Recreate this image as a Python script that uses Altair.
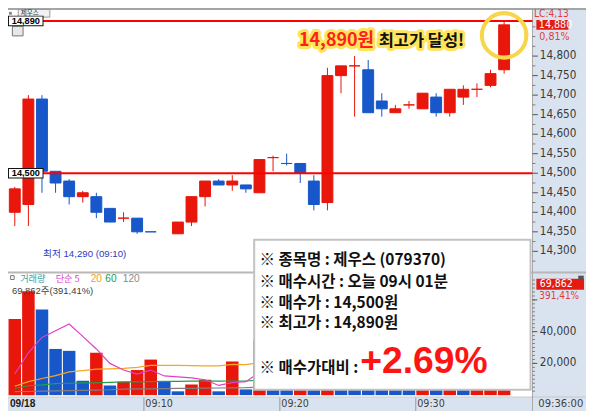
import altair as alt
import pandas as pd

W, H = 578, 403
SX, SY = W / 594.0, H / 419.0
FS = (SX + SY) / 2.0


def X(px):
    return round(px * SX, 2)


def Y(py):
    return round(py * SY, 2)


def F(s):
    return round(s * FS, 2)


RED, BLUE = "#e8160b", "#1757c9"
BAND = "#d9e3ef"
KR = "Noto Sans CJK KR"
NUM = "Liberation Sans Narrow, DejaVu Sans Condensed, Liberation Sans, Noto Sans CJK KR"
SANS = "Liberation Sans, Noto Sans CJK KR"

# ---------------- data ----------------
slots = list(range(37))  # 09:00 .. 09:36, one-minute candles
opens = [14400, 14420, 14690, 14505, 14480, 14440, 14440, 14410, 14385, 14385, 14350, None,
         14345, 14375, 14440, 14480, 14470, 14470, 14450, 14540, 14525, 14525, 14480, 14425,
         14750, 14775, 14765, 14685, 14655, 14675, 14665, 14695, 14655, 14695, 14715, 14725, 14765]
highs = [14465, 14700, 14700, 14505, 14485, 14455, 14450, 14410, 14400, 14385, 14350, None,
         14375, 14440, 14480, 14485, 14495, 14470, 14535, 14545, 14550, 14525, 14495, 14770,
         14775, 14800, 14790, 14705, 14675, 14685, 14705, 14705, 14715, 14725, 14730, 14765, 14890]
lows = [14365, 14365, 14450, 14450, 14420, 14425, 14385, 14375, 14375, 14345, 14350, None,
        14345, 14365, 14415, 14470, 14455, 14450, 14450, 14505, 14520, 14475, 14405, 14405,
        14705, 14645, 14655, 14645, 14655, 14665, 14665, 14645, 14645, 14675, 14695, 14720, 14755]
closes = [14460, 14690, 14505, 14475, 14440, 14450, 14400, 14375, 14385, 14350, 14350, None,
          14375, 14440, 14480, 14470, 14480, 14460, 14535, 14540, 14525, 14500, 14420, 14750,
          14775, 14775, 14655, 14665, 14665, 14675, 14705, 14655, 14715, 14715, 14715, 14755, 14880]
cdir = ["up", "up", "down", "down", "down", "up", "down", "down", "up", "down", "down", None,
        "up", "up", "up", "down", "up", "down", "up", "up", "down", "down", "down", "up",
        "up", "up", "down", "down", "up", "up", "up", "down", "up", "up", "up", "up", "up"]

volumes = [47900, 65500, 53900, 29100, 27900, 9100, 26700, 6100, 8500, 15800, 22400, 8500,
           2400, 6700, 9700, 2400, 21200, 3600, 35000, 12000, 8000, 10000, 20000, 68000,
           25000, 30000, 22000, 9000, 5000, 4000, 12000, 9000, 15000, 8000, 6000, 20000, 69862]
vdir = ["up", "up", "down", "down", "down", "down", "up", "down", "up", "up", "up", "down",
        "down", "up", "up", "down", "up", "down", "up", "down", "down", "up", "down", "up",
        "down", "down", "down", "down", "down", "down", "up", "down", "up", "down", "up", "up", "up"]

ma_slots = list(range(19))
ma5 = [13300, 26700, 36400, 40600, 44800, 37000, 29100, 20000, 15800, 13300, 15800, 12100,
       11500, 10900, 9700, 6100, 7900, 8500, 14400]
ma20 = [5600, 8500, 10500, 12300, 14700, 15500, 16400, 16600, 16800, 17500, 18800, 18800,
        18800, 18600, 18400, 18400, 19400, 19200, 20500]
ma60 = [4200, 5900, 6500, 7300, 7500, 7700, 7700, 8000, 8300, 8400, 8500, 8700,
        8700, 8800, 8800, 8800, 8900, 8900, 9400]
ma120 = [2200, 2300, 2500, 2700, 2800, 3000, 3200, 3400, 3800, 3900, 4000, 4100,
         4200, 4300, 4400, 4500, 4600, 4700, 5000]

level_prices = [14890, 14500]
level_labels = ["14,890", "14,500"]
price_ticks = [14300, 14350, 14400, 14450, 14500, 14550, 14600, 14650, 14700, 14750, 14800]
price_minor = [14275, 14325, 14375, 14425, 14475, 14525, 14575, 14625, 14675, 14725, 14775, 14825, 14850, 14875]
vol_ticks = [20000, 40000, 60000]
vol_tick_labels = [20000, 40000]
vol_minor = list(range(2500, 75000, 2500))
cur_price = [14880]
cur_volume = [69862]
time_slots = [0, 10, 20, 30]
time_labels = ["09/18", "09:10", "09:20", "09:30"]
high_mark = {"slot": [36], "p": [14853]}

# ---------------- helpers ----------------
ONE = pd.DataFrame({"k": [0]})


def hline(y, x0, x1, color, w):
    return alt.Chart(ONE).mark_rule(color=color, strokeWidth=w).encode(
        x=alt.value(X(x0)), x2=alt.value(X(x1)), y=alt.value(Y(y)))


def vline(x, y0, y1, color, w):
    return alt.Chart(ONE).mark_rule(color=color, strokeWidth=w).encode(
        x=alt.value(X(x)), y=alt.value(Y(y0)), y2=alt.value(Y(y1)))


def rect(x0, y0, x1, y1, **kw):
    return alt.Chart(ONE).mark_rect(**kw).encode(
        x=alt.value(X(x0)), x2=alt.value(X(x1)), y=alt.value(Y(y0)), y2=alt.value(Y(y1)))


def text(t, x, y, size, color="#000000", font=KR, weight="normal", align="left",
         baseline="middle", **kw):
    return alt.Chart(pd.DataFrame({"t": [t]})).mark_text(
        align=align, baseline=baseline, font=font, fontSize=F(size), fontWeight=weight,
        color=color, **kw).encode(x=alt.value(X(x)), y=alt.value(Y(y)), text="t:N")


xs = alt.Scale(domain=[-0.5, 38.0], range=[0, X(537.8)], nice=False, zero=False)
ps = alt.Scale(domain=[14300, 14800], range=[Y(253), Y(50)], nice=False, zero=False)
vs = alt.Scale(domain=[0, 60000], range=[Y(402.5), Y(303.5)], nice=False, zero=False)
cs = alt.Scale(domain=["up", "down"], range=[RED, BLUE])

# ---------------- background / frame ----------------
bg = alt.layer(
    rect(539, 0, 594, 405, fill=BAND),
    rect(0, 405, 594, 419, fill=BAND),
    hline(1, 0, 594, "#a5a5a5", 2),
    hline(275, 0, 594, "#b8b8b8", 2),
    hline(404.5, 0, 594, "#c3c3c3", 1),
    vline(539, 0, 419, "#a8a8a8", 1),
    rect(1, 4, 4, 7, fill="#888888"),
    rect(10.5, 1.5, 43, 9.5, fill="#f2f2f2", stroke="#9a9a9a", strokeWidth=1),
    text("제우스", 13, 5, 6.8, "#333333"),
    rect(4.5, 19, 15.5, 29, fill="#e8e8e8", stroke="#777777", strokeWidth=1),
)

# ---------------- volume panel ----------------
vdf = pd.DataFrame({"slot": slots, "vol": volumes, "dir": vdir})
vdf["x0"] = vdf["slot"] - 0.46
vdf["x1"] = vdf["slot"] + 0.46
vdf["zero"] = 0

vbars = alt.Chart(vdf).mark_rect().encode(
    x=alt.X("x0:Q", scale=xs, axis=None), x2="x1:Q",
    y=alt.Y("vol:Q", scale=vs, axis=None), y2="zero:Q",
    color=alt.Color("dir:N", scale=cs, legend=None))


def ma_line(vals, color):
    d = pd.DataFrame({"slot": ma_slots, "v": vals})
    return alt.Chart(d).mark_line(color=color, strokeWidth=1.2).encode(
        x=alt.X("slot:Q", scale=xs, axis=None), y=alt.Y("v:Q", scale=vs, axis=None))


vt = pd.DataFrame({"v": vol_ticks})
vtl = pd.DataFrame({"v": vol_tick_labels, "lab": [f"{v:,}" for v in vol_tick_labels]})
vm = pd.DataFrame({"v": vol_minor})
vminor = alt.Chart(vm).mark_rule(color="#7a7a7a", strokeWidth=1).encode(
    y=alt.Y("v:Q", scale=vs, axis=None), x=alt.value(X(539)), x2=alt.value(X(541.5)))
vmajor = alt.Chart(vt).mark_rule(color="#555555", strokeWidth=1).encode(
    y=alt.Y("v:Q", scale=vs, axis=None), x=alt.value(X(539)), x2=alt.value(X(544)))
vlab = alt.Chart(vtl).mark_text(align="left", baseline="middle", font=NUM, fontSize=F(12),
                                color="#3a3a3a").encode(
    y=alt.Y("v:Q", scale=vs, axis=None), x=alt.value(X(546.5)), text="lab:N")
cv = pd.DataFrame({"v": cur_volume, "lab": [f"{v:,}" for v in cur_volume]})
cvbox = alt.Chart(cv).mark_rule(color="#e31c12", strokeWidth=Y(11.5)).encode(
    y=alt.Y("v:Q", scale=vs, axis=None), x=alt.value(X(543)), x2=alt.value(X(592)))
cvtxt = alt.Chart(cv).mark_text(align="left", baseline="middle", font=NUM, fontSize=F(10.8),
                                color="white").encode(
    y=alt.Y("v:Q", scale=vs, axis=None), x=alt.value(X(546.5)), text="lab:N")

tdf = pd.DataFrame({"edge": [s - 0.5 for s in time_slots], "lab": time_labels})
tticks = alt.Chart(tdf.iloc[1:]).mark_rule(color="#9a9a9a", strokeWidth=1).encode(
    x=alt.X("edge:Q", scale=xs, axis=None), y=alt.value(Y(405)), y2=alt.value(Y(419)))
tlab_date = alt.Chart(tdf.iloc[:1]).mark_text(
    align="left", baseline="middle", font=SANS, fontSize=F(10.5), fontWeight="bold",
    color="#1a1a1a", dx=F(2)).encode(
    x=alt.X("edge:Q", scale=xs, axis=None), y=alt.value(Y(412)), text="lab:N")
tlab = alt.Chart(tdf.iloc[1:]).mark_text(
    align="left", baseline="middle", font=NUM, fontSize=F(11), color="#404040",
    dx=F(1.5)).encode(
    x=alt.X("edge:Q", scale=xs, axis=None), y=alt.value(Y(412)), text="lab:N")

vol_group = alt.layer(
    vbars,
    ma_line(ma120, "#808080"),
    ma_line(ma60, "#22a045"),
    ma_line(ma20, "#f5a623"),
    ma_line(ma5, "#e040c8"),
    vminor, vmajor, vlab, cvbox, cvtxt,
    tticks, tlab_date, tlab,
)

# ---------------- price panel ----------------
cdf = pd.DataFrame({"slot": slots, "open": opens, "high": highs, "low": lows,
                    "close": closes, "dir": cdir}).dropna()
cdf["x0"] = cdf["slot"] - 0.4
cdf["x1"] = cdf["slot"] + 0.4

wicks = alt.Chart(cdf).mark_rule(strokeWidth=1).encode(
    x=alt.X("slot:Q", scale=xs, axis=None),
    y=alt.Y("low:Q", scale=ps, axis=None), y2="high:Q",
    color=alt.Color("dir:N", scale=cs, legend=None))
bodies = alt.Chart(cdf).mark_rect(strokeWidth=1).encode(
    x=alt.X("x0:Q", scale=xs, axis=None), x2="x1:Q",
    y=alt.Y("open:Q", scale=ps, axis=None), y2="close:Q",
    color=alt.Color("dir:N", scale=cs, legend=None),
    stroke=alt.Stroke("dir:N", scale=cs, legend=None))

lvl = pd.DataFrame({"p": level_prices, "lab": level_labels})
lvl_rule = alt.Chart(lvl).mark_rule(color="#ff0000", strokeWidth=2).encode(
    y=alt.Y("p:Q", scale=ps, axis=None), x=alt.value(0), x2=alt.value(X(539)))
lvl_box_o = alt.Chart(lvl).mark_rule(color="#111111", strokeWidth=Y(11)).encode(
    y=alt.Y("p:Q", scale=ps, axis=None), x=alt.value(0), x2=alt.value(X(36.5)))
lvl_box_i = alt.Chart(lvl).mark_rule(color="white", strokeWidth=Y(9)).encode(
    y=alt.Y("p:Q", scale=ps, axis=None), x=alt.value(X(1)), x2=alt.value(X(35.5)))
lvl_txt = alt.Chart(lvl).mark_text(align="center", baseline="middle", font=SANS,
                                   fontSize=F(9.5), fontWeight="bold", color="#000000").encode(
    y=alt.Y("p:Q", scale=ps, axis=None), x=alt.value(X(18.3)), text="lab:N")

pt = pd.DataFrame({"p": price_ticks, "lab": [f"{v:,}" for v in price_ticks]})
pm = pd.DataFrame({"p": price_minor})
pminor = alt.Chart(pm).mark_rule(color="#7a7a7a", strokeWidth=1).encode(
    y=alt.Y("p:Q", scale=ps, axis=None), x=alt.value(X(539)), x2=alt.value(X(542)))
pmajor = alt.Chart(pt).mark_rule(color="#555555", strokeWidth=1).encode(
    y=alt.Y("p:Q", scale=ps, axis=None), x=alt.value(X(539)), x2=alt.value(X(544.5)))
plab = alt.Chart(pt).mark_text(align="left", baseline="middle", font=NUM, fontSize=F(12),
                               color="#3a3a3a").encode(
    y=alt.Y("p:Q", scale=ps, axis=None), x=alt.value(X(546.5)), text="lab:N")
cp = pd.DataFrame({"p": cur_price, "lab": [f"{v:,}" for v in cur_price]})
cpbox = alt.Chart(cp).mark_rule(color="#e31c12", strokeWidth=Y(10)).encode(
    y=alt.Y("p:Q", scale=ps, axis=None), x=alt.value(X(543)), x2=alt.value(X(576)))
cptxt = alt.Chart(cp).mark_text(align="left", baseline="middle", font=NUM, fontSize=F(11),
                                color="white").encode(
    y=alt.Y("p:Q", scale=ps, axis=None), x=alt.value(X(545.5)), text="lab:N")

circle = alt.Chart(pd.DataFrame(high_mark)).mark_point(
    shape="circle", filled=False, size=1980, strokeWidth=F(4.2), color="#f8d64c",
    opacity=1).encode(
    x=alt.X("slot:Q", scale=xs, axis=None), y=alt.Y("p:Q", scale=ps, axis=None))

price_group = alt.layer(
    wicks, bodies, lvl_rule, pminor, pmajor, plab, cpbox, cptxt,
    circle, lvl_box_o, lvl_box_i, lvl_txt,
)

# ---------------- overlays ----------------
GLOW = "#ffe45a"
overlay = alt.layer(
    # info box
    rect(253, 241, 537, 397, fill="white", stroke="#c2c2c2", strokeWidth=2),
    text("※ 종목명 : 제우스 (079370)", 258.5, 262, 16, "#111111", weight="bold"),
    text("※ 매수시간 : 오늘 09시 01분", 258.5, 284.5, 16, "#111111", weight="bold"),
    text("※ 매수가 : 14,500원", 258.5, 306.5, 16, "#111111", weight="bold"),
    text("※ 최고가 : 14,890원", 258.5, 327.5, 16, "#111111", weight="bold"),
    text("※ 매수가대비 : ", 258.5, 379, 16, "#111111", weight="bold", baseline="alphabetic"),
    text("+2.69%", 362, 380, 38.5, "#ff1414", font="Liberation Sans", weight="bold",
         baseline="alphabetic"),
    # highlight headline with yellow glow
    text("14,890원", 299, 34.5, 18.5, GLOW, weight="bold", stroke=GLOW, strokeWidth=6,
         strokeJoin="round"),
    text("최고가 달성!", 381, 34.5, 17, GLOW, weight="bold", stroke=GLOW, strokeWidth=6,
         strokeJoin="round"),
    text("14,890원", 299, 34.5, 18.5, "#ff1e1e", weight="bold"),
    text("최고가 달성!", 381, 34.5, 17, "#111111", weight="bold"),
    # low annotation
    text("최저 14,290 (09:10)", 36, 255.7, 10, "#2b3bbf", font=SANS),
    # volume legend
    rect(2.7, 278.3, 6.3, 282.3, fill="white", stroke="#777777", strokeWidth=1),
    text("거래량", 12.5, 282, 9.5, "#3a9d9d"),
    text("단순 5", 49, 282, 9.5, "#e23ccf"),
    text("20", 85, 282, 10.5, "#f0a020", font=SANS),
    text("60", 100, 282, 10.5, "#1f9e3f", font=SANS),
    text("120", 118, 282, 10.5, "#8a8a8a", font=SANS),
    text("69,862주(391,41%)", 4, 294.3, 9.8, "#404040", font=SANS),
    # right axis annotations
    text("LC:4,13", 540.5, 6.5, 10.5, "#e23b3b", font=NUM),
    text("0,81%", 546, 30, 11, "#e23b3b", font=NUM),
    text("391,41%", 546, 299.5, 10.3, "#e23b3b", font=NUM),
    rect(586, 278.3, 591.7, 282.7, fill="#555555"),
    text("09:36:00", 545, 412, 11.5, "#404040", font=NUM),
)

chart = alt.layer(bg, vol_group, price_group, overlay).resolve_scale(
    y="independent"
).properties(
    width=W, height=H, padding=0, autosize=alt.AutoSizeParams(type="none")
).configure_view(strokeWidth=0)

chart.save("out.html", embed_options={"renderer": "svg", "actions": False})
